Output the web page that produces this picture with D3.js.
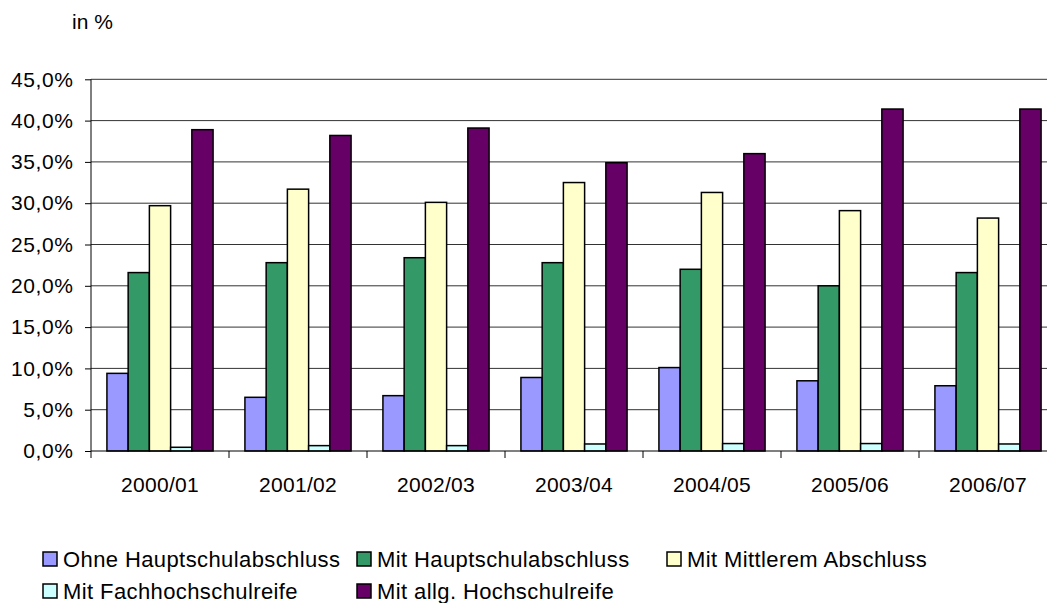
<!DOCTYPE html>
<html>
<head>
<meta charset="utf-8">
<script src="https://cdn.jsdelivr.net/npm/d3@7"></script>
<style>
  body { margin: 0; background: #fff; }
  text { font-family: "Liberation Sans", Arial, sans-serif; fill: #000; }
</style>
</head>
<body>
<svg id="chart" width="1047" height="603"></svg>
<script>
// school years on the x axis
const years = ["2000/01", "2001/02", "2002/03", "2003/04", "2004/05", "2005/06", "2006/07"];

// series names (legend order)
const seriesNames = [
  "Ohne Hauptschulabschluss",
  "Mit Hauptschulabschluss",
  "Mit Mittlerem Abschluss",
  "Mit Fachhochschulreife",
  "Mit allg. Hochschulreife"
];

// values in percent
const ohneHauptschul = [9.4, 6.5, 6.7, 8.9, 10.1, 8.5, 7.9];
const mitHauptschul = [21.6, 22.8, 23.4, 22.8, 22.0, 20.0, 21.6];
const mittlerer = [29.7, 31.7, 30.1, 32.5, 31.3, 29.1, 28.2];
const fachhochschul = [0.45, 0.65, 0.65, 0.85, 0.9, 0.9, 0.85];
const hochschul = [38.9, 38.2, 39.1, 34.9, 36.0, 41.4, 41.4];

const yTicks = [0, 5, 10, 15, 20, 25, 30, 35, 40, 45];

const colors = ["#9999ff", "#339966", "#ffffcc", "#ccffff", "#660066"];

const allSeries = [ohneHauptschul, mitHauptschul, mittlerer, fachhochschul, hochschul];

// plot area (runs past the right edge, as in the original)
const plotLeft = 91, plotRight = 1057, plotTop = 79.3, plotBottom = 451;

const svg = d3.select("#chart");

const x = d3.scaleBand().domain(years).range([plotLeft, plotRight]).padding(0);
// excel style 150% gap: half a gap on each side
const xInner = d3.scaleBand()
  .domain(d3.range(seriesNames.length))
  .range([0, x.bandwidth()])
  .paddingInner(0)
  .paddingOuter(0.75);

const y = d3.scaleLinear().domain([0, 45]).range([plotBottom, plotTop]);

// gridlines
svg.append("g")
  .selectAll("line")
  .data(yTicks.filter(d => d > 0))
  .enter()
  .append("line")
  .attr("x1", plotLeft)
  .attr("x2", plotRight)
  .attr("y1", d => y(d))
  .attr("y2", d => y(d))
  .attr("stroke", "#333")
  .attr("stroke-width", 1);

// bars
const groups = svg.append("g")
  .selectAll("g")
  .data(years)
  .enter()
  .append("g")
  .attr("transform", d => "translate(" + x(d) + ",0)");

groups.selectAll("rect")
  .data((yr, i) => allSeries.map((s, k) => ({ k: k, v: s[i] })))
  .enter()
  .append("rect")
  .attr("x", d => xInner(d.k))
  .attr("width", xInner.bandwidth())
  .attr("y", d => y(d.v))
  .attr("height", d => y(0) - y(d.v))
  .attr("fill", d => colors[d.k])
  .attr("stroke", "#000")
  .attr("stroke-width", 1.5);

// y axis
const yAxis = svg.append("g")
  .attr("transform", "translate(" + plotLeft + ",0)")
  .call(d3.axisLeft(y)
    .tickValues(yTicks)
    .tickSize(6)
    .tickPadding(12)
    .tickFormat(d => d.toFixed(1).replace(".", ",") + "%"));
yAxis.select(".domain").attr("stroke", "#000").attr("d", "M0," + plotTop + "V" + plotBottom);
yAxis.selectAll("line").attr("stroke", "#000");
yAxis.selectAll("text")
  .attr("dx", "0.6")
  .style("font-size", "21px")
  .style("letter-spacing", "0.6px")
  .style("font-family", "'Liberation Sans', Arial, sans-serif");

// x axis: ticks on category boundaries
svg.append("line")
  .attr("x1", plotLeft).attr("x2", plotRight)
  .attr("y1", plotBottom).attr("y2", plotBottom)
  .attr("stroke", "#000");
svg.append("g")
  .selectAll("line")
  .data(years)
  .enter()
  .append("line")
  .attr("x1", d => x(d))
  .attr("x2", d => x(d))
  .attr("y1", plotBottom)
  .attr("y2", plotBottom + 7)
  .attr("stroke", "#000");
svg.append("g")
  .selectAll("text")
  .data(years)
  .enter()
  .append("text")
  .attr("x", d => x(d) + x.bandwidth() / 2)
  .attr("y", 492)
  .attr("text-anchor", "middle")
  .style("font-size", "21px")
  .style("letter-spacing", "0.3px")
  .text(d => d);

// unit label
svg.append("text")
  .attr("x", 72)
  .attr("y", 29)
  .style("font-size", "21px")
  .text("in %");

// legend
const legendPos = [
  { x: 43, y: 552 }, { x: 357, y: 552 }, { x: 667, y: 552 },
  { x: 43, y: 584 }, { x: 357, y: 584 }
];
const legend = svg.append("g")
  .selectAll("g")
  .data(seriesNames)
  .enter()
  .append("g")
  .attr("transform", (d, i) => "translate(" + legendPos[i].x + "," + legendPos[i].y + ")");
legend.append("rect")
  .attr("width", 14)
  .attr("height", 14)
  .attr("fill", (d, i) => colors[i])
  .attr("stroke", "#000")
  .attr("stroke-width", 1.5);
legend.append("text")
  .attr("x", 20)
  .attr("y", 15)
  .style("font-size", "22px")
  .style("letter-spacing", "0.4px")
  .text(d => d);
</script>
</body>
</html>
